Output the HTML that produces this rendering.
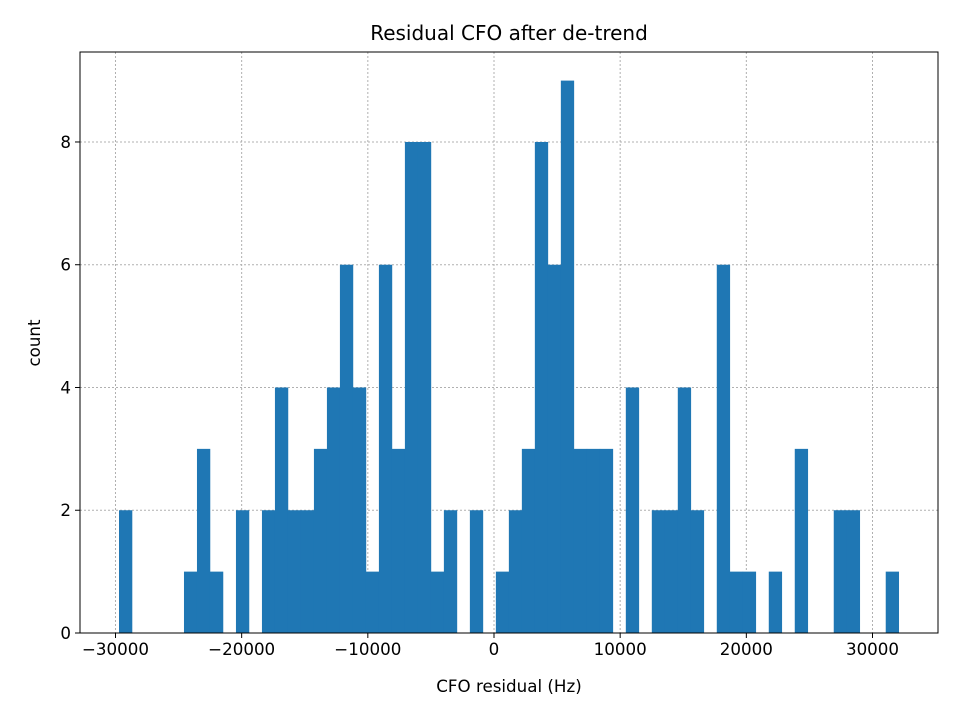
<!DOCTYPE html>
<html><head><meta charset="utf-8"><style>
body{margin:0;background:#fff;}
svg text{font-family:"DejaVu Sans","Liberation Sans",sans-serif;fill:#000;}
</style></head><body>
<svg id="chart" width="960" height="720" viewBox="0 0 960 720" xmlns="http://www.w3.org/2000/svg">
<rect width="960" height="720" fill="#fff"/>
<g id="grid"></g><g id="bars"></g><g id="axes"></g>
<text x="509" y="40" text-anchor="middle" font-size="20">Residual CFO after de-trend</text>
<text x="509" y="692" text-anchor="middle" font-size="16.7">CFO residual (Hz)</text>
<text transform="translate(40,343) rotate(-90)" text-anchor="middle" font-size="16.7">count</text>
</svg>
<script>
const binStart = -29722;
const binWidth = 1030;
const counts = [2,0,0,0,0,1,3,1,0,2,0,2,4,2,2,3,4,6,4,1,6,3,8,8,1,2,0,2,0,1,2,3,8,6,9,3,3,3,0,4,0,2,2,4,2,0,6,1,1,0,1,0,3,0,0,2,2,0,0,1];
const xTicks = [-30000,-20000,-10000,0,10000,20000,30000];
const xTickLabels = ["\u221230000","\u221220000","\u221210000","0","10000","20000","30000"];
const yTicks = [0,2,4,6,8];
const L=80,R=938,T=52,B=633;
const xMin=-32813,xMax=35191,yMax=9.466;
const NS="http://www.w3.org/2000/svg";
function sx(v){return L+(v-xMin)/(xMax-xMin)*(R-L);}
function sy(v){return B-v/yMax*(B-T);}
function mk(tag,attrs,parent){const e=document.createElementNS(NS,tag);for(const k in attrs)e.setAttribute(k,attrs[k]);parent.appendChild(e);return e;}
const grid=document.getElementById('grid'),bars=document.getElementById('bars'),axes=document.getElementById('axes');
xTicks.forEach((t,i)=>{
  const x=sx(t);
  const g=mk('line',{x1:x,x2:x,y1:T,y2:B,stroke:'#b0b0b0','stroke-width':1,'stroke-dasharray':'2,2'},grid);
  
  
  const tk=mk('line',{x1:x,x2:x,y1:B,y2:B+5,stroke:'#000','stroke-width':1},axes);
  
  
  const tx=mk('text',{x:x,y:B+22,'text-anchor':'middle','font-size':16.7},axes);
  tx.textContent=xTickLabels[i];
  
  
});
yTicks.forEach(t=>{
  const y=sy(t);
  const g=mk('line',{x1:L,x2:R,y1:y,y2:y,stroke:'#b0b0b0','stroke-width':1,'stroke-dasharray':'2,2'},grid);
  
  
  const tk=mk('line',{x1:L-5,x2:L,y1:y,y2:y,stroke:'#000','stroke-width':1},axes);
  
  
  const tx=mk('text',{x:L-9,y:y+6,'text-anchor':'end','font-size':16.7},axes);
  tx.textContent=String(t);
  
  
});
counts.forEach((c,i)=>{
  if(c<=0)return;
  const x0=sx(binStart+i*binWidth),x1=sx(binStart+(i+1)*binWidth);
  const r=mk('rect',{x:x0,y:sy(c),width:x1-x0+0.3,height:B-sy(c),fill:'#1f77b4'},bars);
  
  
});
const fr=mk('rect',{x:L,y:T,width:R-L,height:B-T,fill:'none',stroke:'#000','stroke-width':1},axes);


</script>
</body></html>
